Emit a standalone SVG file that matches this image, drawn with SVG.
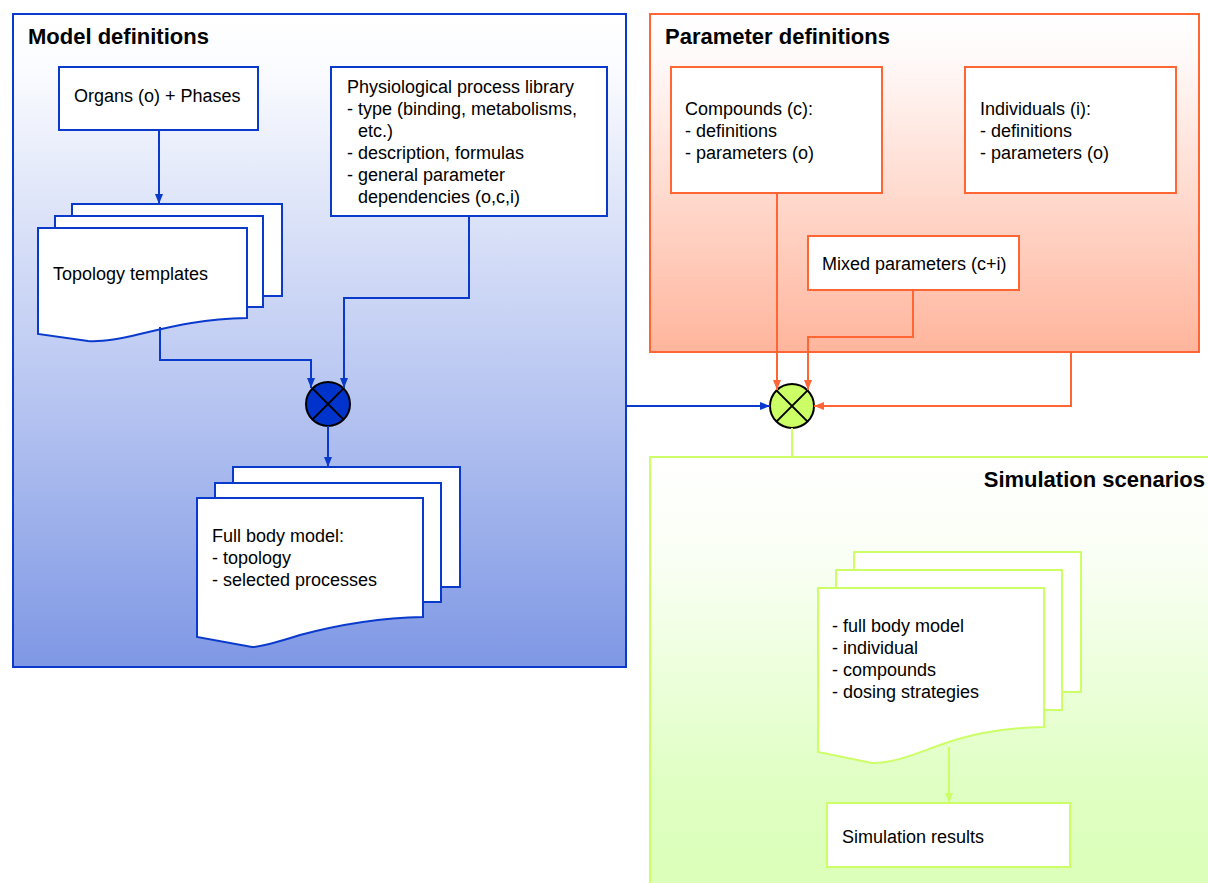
<svg xmlns="http://www.w3.org/2000/svg" width="1208" height="883" viewBox="0 0 1208 883">
<defs>
<linearGradient id="gBlue" x1="0" y1="0" x2="0" y2="1">
<stop offset="0" stop-color="#ffffff"/>
<stop offset="0.08" stop-color="#fbfcff"/>
<stop offset="1" stop-color="#7f98e5"/>
</linearGradient>
<linearGradient id="gOrange" x1="0" y1="0" x2="0" y2="1">
<stop offset="0" stop-color="#ffffff"/>
<stop offset="0.12" stop-color="#fffafa"/>
<stop offset="1" stop-color="#ffb59c"/>
</linearGradient>
<linearGradient id="gGreen" x1="0" y1="0" x2="0" y2="1">
<stop offset="0" stop-color="#ffffff"/>
<stop offset="0.2" stop-color="#fafff5"/>
<stop offset="0.65" stop-color="#e0ffc4"/>
<stop offset="1" stop-color="#d8ffb0"/>
</linearGradient>
<marker id="aBlue" markerUnits="userSpaceOnUse" markerWidth="10" markerHeight="8" refX="10" refY="4" orient="auto"><path d="M0,0 L10,4 L0,8 z" fill="#0a3acc"/></marker>
<marker id="aOrange" markerUnits="userSpaceOnUse" markerWidth="10" markerHeight="8" refX="10" refY="4" orient="auto"><path d="M0,0 L10,4 L0,8 z" fill="#ff6633"/></marker>
<marker id="aGreen" markerUnits="userSpaceOnUse" markerWidth="10" markerHeight="8" refX="10" refY="4" orient="auto"><path d="M0,0 L10,4 L0,8 z" fill="#ccff66"/></marker>
<style>
text{font-family:"Liberation Sans",Arial,sans-serif;font-size:18px;fill:#000}
.title{font-weight:bold;font-size:22px}
.bl{stroke:#0a3acc;stroke-width:2;fill:#fff}
.or{stroke:#ff6633;stroke-width:2;fill:#fff}
.gr{stroke:#ccff66;stroke-width:2;fill:#fff}
.cb{stroke:#0a3acc;stroke-width:2;fill:none}
.co{stroke:#ff6633;stroke-width:2;fill:none}
.cg{stroke:#ccff66;stroke-width:2;fill:none}
.x{stroke:#000;stroke-width:2}
</style>
</defs>

<g id="model-definitions">
<rect x="13" y="14" width="613" height="653" fill="url(#gBlue)" stroke="#0a3acc" stroke-width="2"/>
<text class="title" x="28" y="44">Model definitions</text>
</g>
<g id="parameter-definitions">
<rect x="650" y="14" width="549" height="338" fill="url(#gOrange)" stroke="#ff6633" stroke-width="2"/>
<text class="title" x="665" y="44">Parameter definitions</text>
</g>
<g id="simulation-scenarios">
<rect x="650" y="457" width="600" height="500" fill="url(#gGreen)" stroke="#ccff66" stroke-width="2"/>
<text class="title" x="1205" y="487" text-anchor="end">Simulation scenarios</text>
</g>

<g id="organs">
<rect class="bl" x="59" y="67" width="199" height="63"/>
<text x="74" y="102">Organs (o) + Phases</text>
</g>
<g id="process-library">
<rect class="bl" x="331" y="67" width="276" height="149"/>
<text x="347" y="93">Physiological process library<tspan x="347" dy="22">- type (binding, metabolisms,</tspan><tspan x="358" dy="22">etc.)</tspan><tspan x="347" dy="22">- description, formulas</tspan><tspan x="347" dy="22">- general parameter</tspan><tspan x="358" dy="22">dependencies (o,c,i)</tspan></text>
</g>
<g id="topology-templates">
<rect class="bl" x="72" y="204" width="210" height="92"/>
<rect class="bl" x="55" y="216" width="208" height="91"/>
<path class="bl" d="M38,228 H247 V318 C200,319 170,327 140,334 C115,340 100,342 88,341 L38,334 Z"/>
<text x="53" y="280">Topology templates</text>
</g>
<g id="combine-model">
<circle cx="328" cy="404" r="22" fill="#0033cc" stroke="#000" stroke-width="2"/>
<path class="x" d="M312.4,388.4 L343.6,419.6 M343.6,388.4 L312.4,419.6"/>
</g>
<g id="full-body-model">
<rect class="bl" x="233" y="467" width="227" height="120"/>
<rect class="bl" x="215" y="483" width="226" height="119"/>
<path class="bl" d="M197,498 H423 V617 C370,618 330,627 300,635 C278,642 262,647 252,647 L197,637 Z"/>
<text x="212" y="542">Full body model:<tspan x="212" dy="22">- topology</tspan><tspan x="212" dy="22">- selected processes</tspan></text>
</g>

<g id="compounds">
<rect class="or" x="671" y="67" width="211" height="126"/>
<text x="685" y="115">Compounds (c):<tspan x="685" dy="22">- definitions</tspan><tspan x="685" dy="22">- parameters (o)</tspan></text>
</g>
<g id="individuals">
<rect class="or" x="965" y="67" width="211" height="126"/>
<text x="980" y="115">Individuals (i):<tspan x="980" dy="22">- definitions</tspan><tspan x="980" dy="22">- parameters (o)</tspan></text>
</g>
<g id="mixed-parameters">
<rect class="or" x="808" y="236" width="211" height="54"/>
<text x="822" y="270">Mixed parameters (c+i)</text>
</g>
<g id="combine-scenario">
<circle cx="792" cy="406" r="22" fill="#ccff66" stroke="#000" stroke-width="2"/>
<path class="x" d="M776.4,390.4 L807.6,421.6 M807.6,390.4 L776.4,421.6"/>
</g>

<g id="scenario-docs">
<rect class="gr" x="854" y="552" width="227" height="140"/>
<rect class="gr" x="836" y="570" width="226" height="140"/>
<path class="gr" d="M818,588 H1044 V727 C995,728 965,736 940,745 C915,754 895,763 872,763 L818,752 Z"/>
<text x="832" y="632">- full body model<tspan x="832" dy="22">- individual</tspan><tspan x="832" dy="22">- compounds</tspan><tspan x="832" dy="22">- dosing strategies</tspan></text>
</g>
<g id="simulation-results">
<rect class="gr" x="827" y="803" width="243" height="64"/>
<text x="842" y="843">Simulation results</text>
</g>

<g id="connectors">
<path class="cb" d="M159,130 V204" marker-end="url(#aBlue)"/>
<path class="cb" d="M160,327 V360 H311 V388" marker-end="url(#aBlue)"/>
<path class="cb" d="M469,216 V298 H344 V388" marker-end="url(#aBlue)"/>
<path class="cb" d="M328,426 V467" marker-end="url(#aBlue)"/>
<path class="cb" d="M626,406 H770" marker-end="url(#aBlue)"/>
<path class="co" d="M777,193 V390" marker-end="url(#aOrange)"/>
<path class="co" d="M913,290 V337 H808 V390" marker-end="url(#aOrange)"/>
<path class="co" d="M1071,352 V406 H814" marker-end="url(#aOrange)"/>
<path class="cg" d="M792,428 V457"/>
<path class="cg" d="M949,747 V803" marker-end="url(#aGreen)"/>
</g>
</svg>
